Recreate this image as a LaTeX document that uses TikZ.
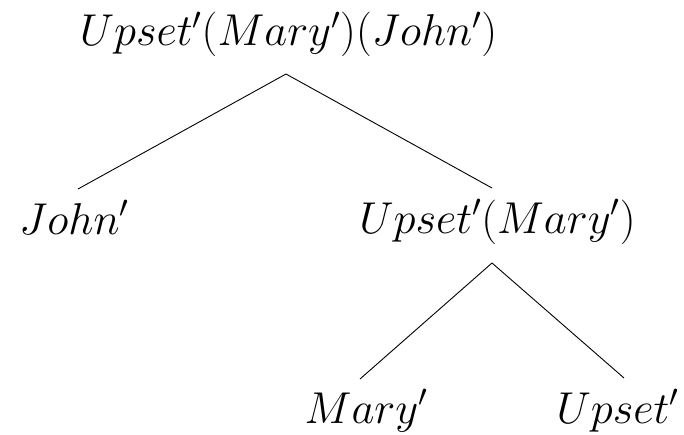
\RequirePackage{fix-cm}
\documentclass[tikz,border=0pt]{standalone}
\begin{document}
\begin{tikzpicture}[x=1pt,y=-1pt,
  lbl/.style={anchor=base,inner sep=0pt,font=\fontsize{44.6}{50}\selectfont},
  edge/.style={line width=0.9pt}]
\useasboundingbox (0,0) rectangle (684,434);
% labels of the tree
\node[lbl] (root) at (288.5,45.5) {$Upset'(Mary')(John')$};
\node[lbl] (john) at (74,234) {$John'$};
\node[lbl] (um)   at (497.5,233) {$Upset'(Mary')$};
\node[lbl] (mary) at (366,423) {$Mary'$};
\node[lbl] (up)   at (617.5,423) {$Upset'$};
% attachment points of the branches
\coordinate (root-b) at (286,74);
\coordinate (john-t) at (78,189);
\coordinate (um-t)   at (492,188);
\coordinate (um-b)   at (492,263);
\coordinate (mary-t) at (360,379);
\coordinate (up-t)   at (624,378);
% branches
\draw[edge] (root-b) -- (john-t);
\draw[edge] (root-b) -- (um-t);
\draw[edge] (um-b) -- (mary-t);
\draw[edge] (um-b) -- (up-t);
\end{tikzpicture}
\end{document}
